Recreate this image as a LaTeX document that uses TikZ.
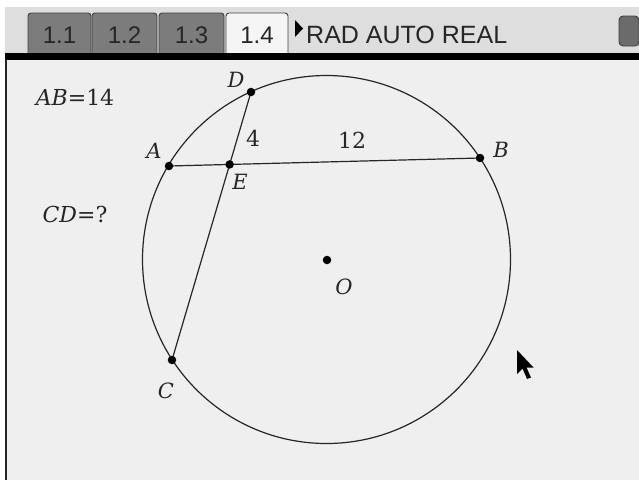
\documentclass[tikz,border=0pt]{standalone}
\usepackage{fontspec}
\setmainfont{DejaVu Serif}
\newfontfamily\tisans{Liberation Sans}
\definecolor{pagebg}{HTML}{EFEFEF}
\definecolor{barbg}{HTML}{DEDEDE}
\definecolor{tabdark}{HTML}{7C7C7C}
\definecolor{ink}{HTML}{262626}
\begin{document}
\begin{tikzpicture}[x=1pt,y=-1pt,
  geo/.style={draw=ink, line width=1.2pt},
  dot/.style={circle, fill=black, inner sep=0pt, minimum size=8.5pt},
  lbl/.style={font=\fontsize{21}{21}\selectfont\itshape, inner sep=0pt, text=ink},
  num/.style={font=\fontsize{22}{22}\selectfont, inner sep=0pt, text=ink},
  eqtxt/.style={font=\fontsize{22}{22}\selectfont, inner sep=0pt, text=ink},
  tabshape/.style={draw=black!75, line width=0.9pt, rounded corners=3pt},
  tabtxt/.style={font=\tisans\fontsize{24}{24}\selectfont, inner sep=0pt, text=black!85, anchor=base}]
\useasboundingbox (0,0) rectangle (639,480);
\fill[white] (0,0) rectangle (639,480);
% top bar
\fill[barbg] (5,7) rectangle (639,53);
\draw[tabshape, fill=tabdark] (28,53) -- (28,13) -- (91,13) -- (91,53);
\draw[tabshape, fill=tabdark] (92,53) -- (92,13) -- (157,13) -- (157,53);
\draw[tabshape, fill=tabdark] (159,53) -- (159,13) -- (224,13) -- (224,53);
\draw[tabshape, fill=white!96!black] (226,53) -- (226,13) -- (288,13) -- (288,53);
\node[tabtxt] (t1) at (59.5,43) {1.1};
\node[tabtxt] (t2) at (124.5,43) {1.2};
\node[tabtxt] (t3) at (191.5,43) {1.3};
\node[tabtxt] (t4) at (257,43) {1.4};
\fill[black] (295,20) -- (295,37) -- (303,28.5) -- cycle;
\node[tabtxt, anchor=base west, font=\tisans\fontsize{25}{25}\selectfont] (mode) at (306,43) {RAD AUTO REAL};
\draw[black!75, line width=0.9pt, fill=black!58, rounded corners=4pt] (619,46) -- (619,16) -- (639,16) -- (639,46) -- cycle;
\fill[black] (5,53) rectangle (639,60);
% page
\fill[pagebg] (7,60) rectangle (639,480);
\draw[black!85, line width=2pt] (6,60) -- (6,480);
% geometry
\coordinate (O) at (327,260);
\coordinate (A) at (169,166);
\coordinate (B) at (480,158);
\coordinate (C) at (172,360);
\coordinate (D) at (251,92);
\coordinate (E) at (intersection of A--B and C--D);
\draw[geo] (326.5,259.5) circle[radius=184];
\draw[geo] (A) -- (B);
\draw[geo] (C) -- (D);
\foreach \p in {A,B,C,D,E,O} \node[dot] (dot\p) at (\p) {};
% labels
\node[lbl] (lD) at (236,80) {D};
\node[lbl] (lA) at (154,151) {A};
\node[lbl] (lB) at (501,150) {B};
\node[lbl] (lE) at (240,182) {E};
\node[lbl] (lO) at (344,287) {O};
\node[lbl] (lC) at (166,391) {C};
\node[num] (n4) at (253,138) {4};
\node[num] (n12) at (352,140) {12};
\node[eqtxt] (ab) at (75,97) {\textit{AB}=14};
\node[eqtxt] (cd) at (75,214) {\textit{CD}=?};
% cursor
\fill[black] (517,350) -- (517,374) -- (522.5,368.5) -- (527,379) -- (531,377.5) -- (526.5,367.5) -- (533.5,367.5) -- cycle;
\end{tikzpicture}
\end{document}
